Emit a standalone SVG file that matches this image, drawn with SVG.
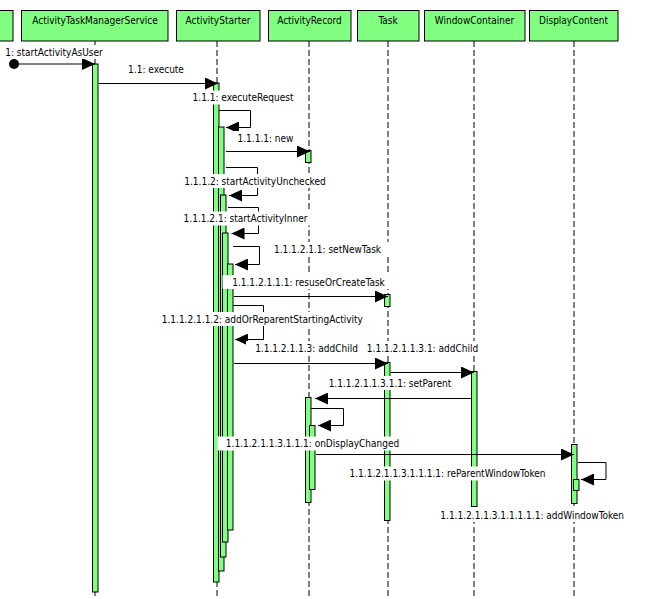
<svg xmlns="http://www.w3.org/2000/svg" width="664" height="599" viewBox="0 0 664 599">
<defs>
<style>
.hdr{fill:#80FF80;stroke:#000;stroke-width:1}
.bar{fill:#80FF80;stroke:#000;stroke-width:1}
.life{stroke:#000;stroke-width:1;stroke-dasharray:6,3;fill:none}
.msg{stroke:#000;stroke-width:1;fill:none}
.bg{fill:#fff;stroke:none}
text{font-family:"DejaVu Sans Condensed","DejaVu Sans",sans-serif;font-stretch:condensed;font-size:10px;fill:#000;text-anchor:middle}
</style>
<marker id="ah" viewBox="0 0 13 12" refX="13" refY="6" markerWidth="13" markerHeight="12" markerUnits="userSpaceOnUse" orient="auto">
<path d="M0,0 L13,6 L0,12 Z" fill="#000"/>
</marker>
</defs>
<rect width="664" height="599" fill="#fff"/>

<g id="lifelines">
<line class="life" x1="95" y1="41" x2="95" y2="599"/>
<line class="life" x1="217" y1="41" x2="217" y2="599"/>
<line class="life" x1="309" y1="41" x2="309" y2="599"/>
<line class="life" x1="388" y1="41" x2="388" y2="599"/>
<line class="life" x1="474" y1="41" x2="474" y2="599"/>
<line class="life" x1="574" y1="41" x2="574" y2="599"/>
</g>

<g id="actor">
<rect class="hdr" x="-60" y="10.5" width="73" height="30.5"/>
</g>
<g id="ActivityTaskManagerService">
<rect class="hdr" x="21.5" y="10.5" width="146.5" height="30.5"/>
<text x="95" y="23.5">ActivityTaskManagerService</text>
<rect class="bar" x="92.5" y="64" width="5.5" height="528"/>
</g>
<g id="ActivityStarter">
<rect class="hdr" x="176.5" y="10.5" width="83.5" height="30.5"/>
<text x="218" y="23.5">ActivityStarter</text>
<rect class="bar" x="213.5" y="83" width="5.5" height="499"/>
<rect class="bar" x="218.5" y="127" width="5.5" height="444"/>
<rect class="bar" x="220.5" y="195" width="5.5" height="362"/>
<rect class="bar" x="222.5" y="233" width="5.5" height="309"/>
<rect class="bar" x="227.5" y="264" width="5.5" height="266"/>
</g>
<g id="ActivityRecord">
<rect class="hdr" x="268.5" y="10.5" width="82.5" height="30.5"/>
<text x="309.5" y="23.5">ActivityRecord</text>
<rect class="bar" x="305.5" y="150.5" width="5.5" height="12"/>
<rect class="bar" x="305.5" y="397.5" width="5.5" height="105"/>
<rect class="bar" x="309.5" y="425.5" width="5.5" height="64"/>
</g>
<g id="Task">
<rect class="hdr" x="357.5" y="10.5" width="61.5" height="30.5"/>
<text x="388" y="23.5">Task</text>
<rect class="bar" x="384.5" y="294.5" width="5.5" height="12"/>
<rect class="bar" x="384.5" y="362.5" width="5.5" height="158"/>
</g>
<g id="WindowContainer">
<rect class="hdr" x="424.5" y="10.5" width="100.5" height="30.5"/>
<text x="474.5" y="23.5">WindowContainer</text>
<rect class="bar" x="471.5" y="371.5" width="5.5" height="135"/>
</g>
<g id="DisplayContent">
<rect class="hdr" x="529.5" y="10.5" width="88.5" height="30.5"/>
<text x="573.5" y="23.5">DisplayContent</text>
<rect class="bar" x="571.5" y="444.5" width="5.5" height="59"/>
<rect class="bar" x="573.5" y="479.5" width="5.5" height="11"/>
</g>

<g id="connectors">
<circle cx="14" cy="64" r="5" fill="#000"/>
<line class="msg" x1="14" y1="64" x2="95" y2="64" marker-end="url(#ah)"/>
<line class="msg" x1="99" y1="83.5" x2="218" y2="83.5" marker-end="url(#ah)"/>
<polyline class="msg" points="219,110.5 250.5,110.5 250.5,127.5 226,127.5" marker-end="url(#ah)"/>
<line class="msg" x1="226" y1="151.5" x2="310" y2="151.5" marker-end="url(#ah)"/>
<polyline class="msg" points="226,167.5 257.5,167.5 257.5,195.5 229,195.5" marker-end="url(#ah)"/>
<polyline class="msg" points="228,207.5 258.5,207.5 258.5,233.5 231.5,233.5" marker-end="url(#ah)"/>
<polyline class="msg" points="233,246.5 259.5,246.5 259.5,264.5 235,264.5" marker-end="url(#ah)"/>
<line class="msg" x1="234" y1="296.5" x2="388" y2="296.5" marker-end="url(#ah)"/>
<polyline class="msg" points="233,305.5 263.5,305.5 263.5,339.5 235,339.5" marker-end="url(#ah)"/>
<line class="msg" x1="234" y1="363.5" x2="388" y2="363.5" marker-end="url(#ah)"/>
<line class="msg" x1="391" y1="372.5" x2="474" y2="372.5" marker-end="url(#ah)"/>
<line class="msg" x1="471" y1="398.5" x2="315" y2="398.5" marker-end="url(#ah)"/>
<polyline class="msg" points="311,408.5 343.5,408.5 343.5,425.5 318,425.5" marker-end="url(#ah)"/>
<line class="msg" x1="316" y1="454.5" x2="574" y2="454.5" marker-end="url(#ah)"/>
<polyline class="msg" points="578,462.5 606,462.5 606,479.5 581,479.5" marker-end="url(#ah)"/>
</g>

<g id="labels">
<rect class="bg" x="-5" y="45" width="117" height="14"/>
<text x="54" y="55.5">1: startActivityAsUser</text>
<rect class="bg" x="119" y="62.5" width="74" height="14"/>
<text x="156" y="73">1.1: execute</text>
<rect class="bg" x="183" y="90.5" width="120" height="14"/>
<text x="243" y="101">1.1.1: executeRequest</text>
<rect class="bg" x="228" y="131" width="75" height="14"/>
<text x="265.5" y="141.5">1.1.1.1: new</text>
<rect class="bg" x="174" y="174" width="162" height="14"/>
<text x="255" y="184.5">1.1.1.2: startActivityUnchecked</text>
<rect class="bg" x="174" y="211.5" width="143" height="14"/>
<text x="245.5" y="222">1.1.1.2.1: startActivityInner</text>
<rect class="bg" x="264" y="242" width="127" height="14"/>
<text x="327.5" y="252.5">1.1.1.2.1.1: setNewTask</text>
<rect class="bg" x="222.5" y="275" width="172" height="14"/>
<text x="308.5" y="285.5">1.1.1.2.1.1.1: resuseOrCreateTask</text>
<rect class="bg" x="151.5" y="312" width="221" height="14"/>
<text x="262.3" y="322.5">1.1.1.2.1.1.2: addOrReparentStartingActivity</text>
<rect class="bg" x="246" y="341" width="121" height="14"/>
<text x="306.5" y="351.5">1.1.1.2.1.1.3: addChild</text>
<rect class="bg" x="358" y="341" width="129" height="14"/>
<text x="422.5" y="351.5">1.1.1.2.1.1.3.1: addChild</text>
<rect class="bg" x="320" y="376" width="140" height="14"/>
<text x="390" y="386.5">1.1.1.2.1.1.3.1.1: setParent</text>
<rect class="bg" x="217.5" y="436.5" width="190" height="14"/>
<text x="312.5" y="446.5">1.1.1.2.1.1.3.1.1.1: onDisplayChanged</text>
<rect class="bg" x="338" y="466.5" width="219" height="14"/>
<text x="447.5" y="477">1.1.1.2.1.1.3.1.1.1.1: reParentWindowToken</text>
<rect class="bg" x="430" y="508" width="204" height="14"/>
<text x="532.2" y="518.5">1.1.1.2.1.1.3.1.1.1.1.1: addWindowToken</text>
</g>
</svg>
